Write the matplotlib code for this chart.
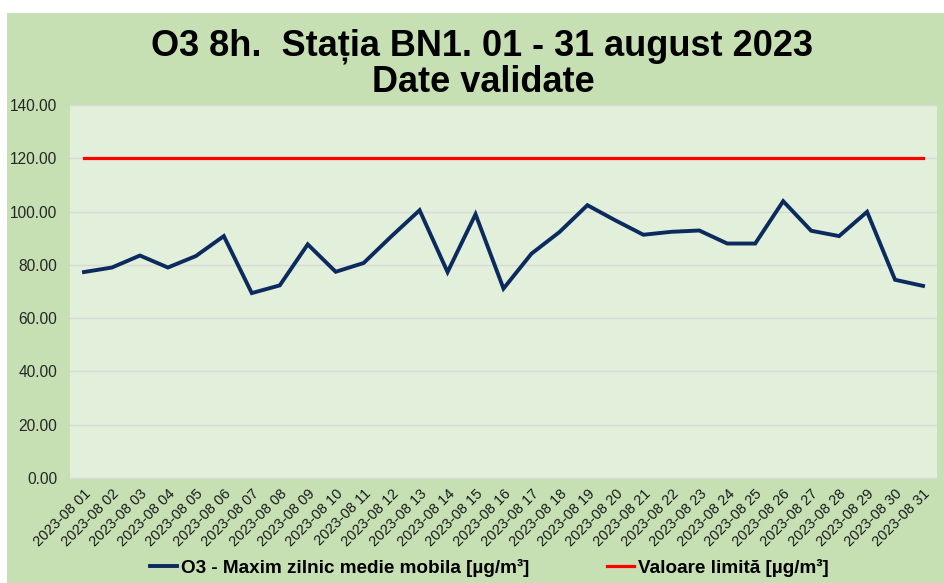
import matplotlib
matplotlib.use("Agg")
import matplotlib.pyplot as plt
from matplotlib.patches import Rectangle

plt.rcParams['font.family'] = ['Liberation Sans', 'DejaVu Sans']

dates = [f"2023-08 {d:02d}" for d in range(1, 32)]
o3_values = [77.3, 79.0, 83.5, 79.0, 83.3, 90.8, 69.4, 72.3, 87.7, 77.4,
             80.7, 90.8, 100.5, 77.3, 99.0, 71.1, 84.2, 92.3, 102.4, 96.7,
             91.3, 92.4, 92.9, 88.0, 88.0, 103.9, 92.8, 90.8, 99.9, 74.4, 72.1]
limit_values = [120.0] * 31
y_ticks = [0, 20, 40, 60, 80, 100, 120, 140]

W, H = 945, 583
fig = plt.figure(figsize=(W / 100, H / 100), dpi=100, facecolor='white')
fig.patches.append(Rectangle((7 / W, 0), 1 - 7 / W, 1 - 13 / H, transform=fig.transFigure,
                             facecolor='#C6E0B4', edgecolor='none', zorder=-10))

ax = fig.add_axes([70 / W, 105 / H, (937 - 70) / W, (478 - 105) / H])
ax.set_facecolor('#E2EFDA')
x = list(range(len(dates)))
ax.plot(x, o3_values, color='#0B2A5E', lw=2.8, solid_joinstyle='miter',
        label='O3 - Maxim zilnic medie mobila [µg/m³]', zorder=3)
ax.plot(x, limit_values, color='#FF0000', lw=2.3,
        label='Valoare limită [µg/m³]', zorder=3)

ax.set_xlim(-0.5, 30.5)
ax.set_ylim(0, 140)
ax.set_yticks(y_ticks)
ax.set_yticklabels([f"{v:.2f}" for v in y_ticks], fontsize=11.2, color='#262626')
ax.set_xticks(x)
ax.set_xticklabels(dates, rotation=45, ha='right', rotation_mode='anchor',
                   fontsize=10.5, color='#1A1A1A')
ax.tick_params(axis='both', length=0)
ax.tick_params(axis='y', pad=9)
ax.tick_params(axis='x', pad=6)
ax.grid(axis='y', color='#D9D9D9', lw=1)
ax.set_axisbelow(True)
for s in ['top', 'left', 'right']:
    ax.spines[s].set_visible(False)
ax.spines['bottom'].set_color('#D9D9D9')

fig.text(482 / W, 1 - 46 / H, 'O3 8h.  Stația BN1. 01 - 31 august 2023', ha='center', va='center',
         fontsize=26, fontweight='bold', color='black')
fig.text(483 / W, 1 - 82 / H, 'Date validate', ha='center', va='center',
         fontsize=26, fontweight='bold', color='black')

fig.legend(loc='center', bbox_to_anchor=(489 / W, 1 - 568 / H), ncol=2, frameon=False,
           prop={'weight': 'bold', 'size': 13.6}, handlelength=1.45, handletextpad=0.2,
           columnspacing=4.1)

fig.savefig('out.png', dpi=100, facecolor='white')
